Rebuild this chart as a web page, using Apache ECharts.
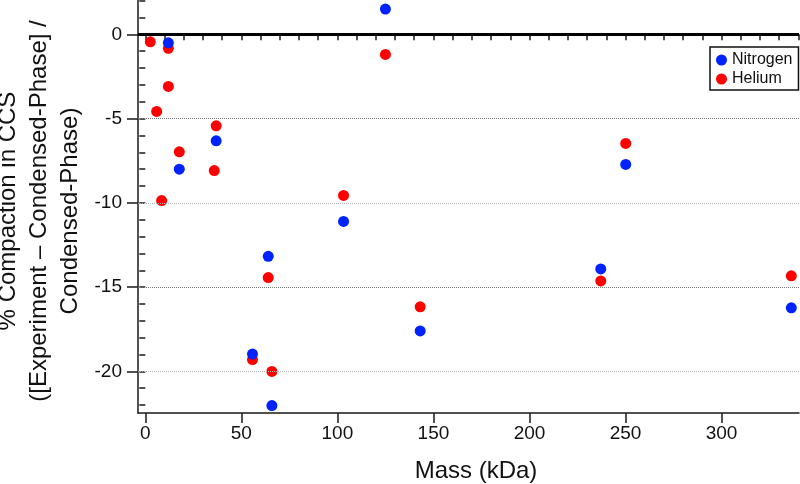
<!DOCTYPE html>
<html>
<head>
<meta charset="utf-8">
<script src="https://cdn.jsdelivr.net/npm/echarts@6/dist/echarts.min.js"></script>
<style>html,body{margin:0;padding:0;background:#fff}#c{width:800px;height:484px}</style>
</head>
<body>
<div id="c"></div>
<script>
// Data (mass in kDa, % compaction)
const massN = [12.0, 17.7, 36.9, 55.8, 64.0, 65.9, 103.2, 125.0, 143.1, 237.1, 250.1, 336.3];
const valN  = [-0.50, -8.00, -6.32, -18.97, -13.17, -22.03, -11.10, 1.50, -17.60, -13.92, -7.72, -16.23];
const massHe = [2.6, 5.9, 8.5, 12.0, 12.0, 17.7, 35.9, 36.9, 55.8, 64.0, 65.9, 103.2, 125.0, 143.1, 237.1, 250.1, 336.3];
const valHe  = [-0.44, -4.57, -9.86, -0.83, -3.09, -6.97, -8.08, -5.43, -19.30, -14.43, -20.00, -9.56, -1.19, -16.17, -14.63, -6.47, -14.33];
const xMajor = [0, 50, 100, 150, 200, 250, 300];
const xMinor = [0,10,20,30,40,50,60,70,80,90,100,110,120,130,140,150,160,170,180,190,200,210,220,230,240,250,260,270,280,290,300,310,320,330,340];
const yMajor = [0, -5, -10, -15, -20];
const yMinor = [2,1,0,-1,-2,-3,-4,-5,-6,-7,-8,-9,-10,-11,-12,-13,-14,-15,-16,-17,-18,-19,-20,-21,-22];
const gridDark = [-5, -15];
const gridLight = [-10, -20];
const zeroLine = [0];

const FONT = '"Liberation Sans", Arial, sans-serif';
const xMin = -3.8, xMax = 340.3, yMin = -22.47, yMax = 2.04;

const chart = echarts.init(document.getElementById('c'), null, {renderer: 'canvas'});

const axisLineStyle = {color: '#1a1a1a', width: 1.5};

const lineData = [].concat(
  gridDark.map(v => ({yAxis: v, lineStyle: {color: '#777', width: 1, type: [1, 1]}})),
  gridLight.map(v => ({yAxis: v, lineStyle: {color: '#b5b5b5', width: 1, type: [1, 1]}})),
  zeroLine.map(v => ({yAxis: v, lineStyle: {color: '#000', width: 3, type: 'solid'}}))
);

chart.setOption({
  animation: false,
  backgroundColor: '#fff',
  grid: {left: 138, right: 1, top: 0, bottom: 71, containLabel: false},
  xAxis: [{
    type: 'value', min: xMin, max: xMax,
    axisLine: {show: true, onZero: false, lineStyle: axisLineStyle},
    axisTick: {show: true, inside: false, length: 10, customValues: xMajor, lineStyle: axisLineStyle},
    axisLabel: {show: true, customValues: xMajor, margin: 11, fontSize: 19, color: '#111', fontFamily: FONT},
    splitLine: {show: false}
  }, {
    type: 'value', min: xMin, max: xMax, position: 'bottom',
    axisLine: {show: false},
    axisTick: {show: true, inside: false, length: 6, customValues: xMinor, lineStyle: axisLineStyle},
    axisLabel: {show: false},
    splitLine: {show: false}
  }],
  yAxis: [{
    type: 'value', min: yMin, max: yMax,
    axisLine: {show: true, onZero: false, lineStyle: axisLineStyle},
    axisTick: {show: true, inside: false, length: 11, customValues: yMajor, lineStyle: axisLineStyle},
    axisLabel: {show: true, customValues: yMajor, margin: 16, fontSize: 19, color: '#111', fontFamily: FONT},
    splitLine: {show: false}
  }, {
    type: 'value', min: yMin, max: yMax, position: 'left',
    axisLine: {show: false},
    axisTick: {show: true, inside: false, length: 6, customValues: yMinor, lineStyle: axisLineStyle},
    axisLabel: {show: false},
    splitLine: {show: false}
  }],
  legend: {
    data: ['Nitrogen', 'Helium'],
    orient: 'vertical', left: 710, top: 47,
    padding: [5, 6, 3, 6], itemGap: 3, itemWidth: 11, itemHeight: 11, itemTextGap: 5,
    icon: 'circle',
    borderColor: '#111', borderWidth: 1.5, backgroundColor: '#fff',
    textStyle: {fontSize: 16, color: '#111', fontFamily: FONT}
  },
  graphic: [
    {type: 'text', x: 39, y: 211, rotation: Math.PI / 2, silent: true,
     style: {text: '% Compaction in CCS\n([Experiment \u2013 Condensed-Phase] /\nCondensed-Phase)',
             fontSize: 24, lineHeight: 31, fontFamily: FONT, fill: '#111', align: 'center', verticalAlign: 'middle'}},
    {type: 'text', x: 476, y: 471, silent: true,
     style: {text: 'Mass (kDa)', fontSize: 24, fontFamily: FONT, fill: '#111', align: 'center', verticalAlign: 'middle'}}
  ],
  series: [
    {name: 'lines', type: 'scatter', data: [], z: 1, silent: true,
     markLine: {silent: true, symbol: ['none', 'none'], label: {show: false}, animation: false, data: lineData}},
    {name: 'Helium', type: 'scatter', z: 3, symbol: 'circle', symbolSize: 11,
     itemStyle: {color: '#ff0000', opacity: 1},
     data: massHe.map((m, i) => [m, valHe[i]])},
    {name: 'Nitrogen', type: 'scatter', z: 4, symbol: 'circle', symbolSize: 11,
     itemStyle: {color: '#0022ff', opacity: 1},
     data: massN.map((m, i) => [m, valN[i]])}
  ]
});
</script>
</body>
</html>
